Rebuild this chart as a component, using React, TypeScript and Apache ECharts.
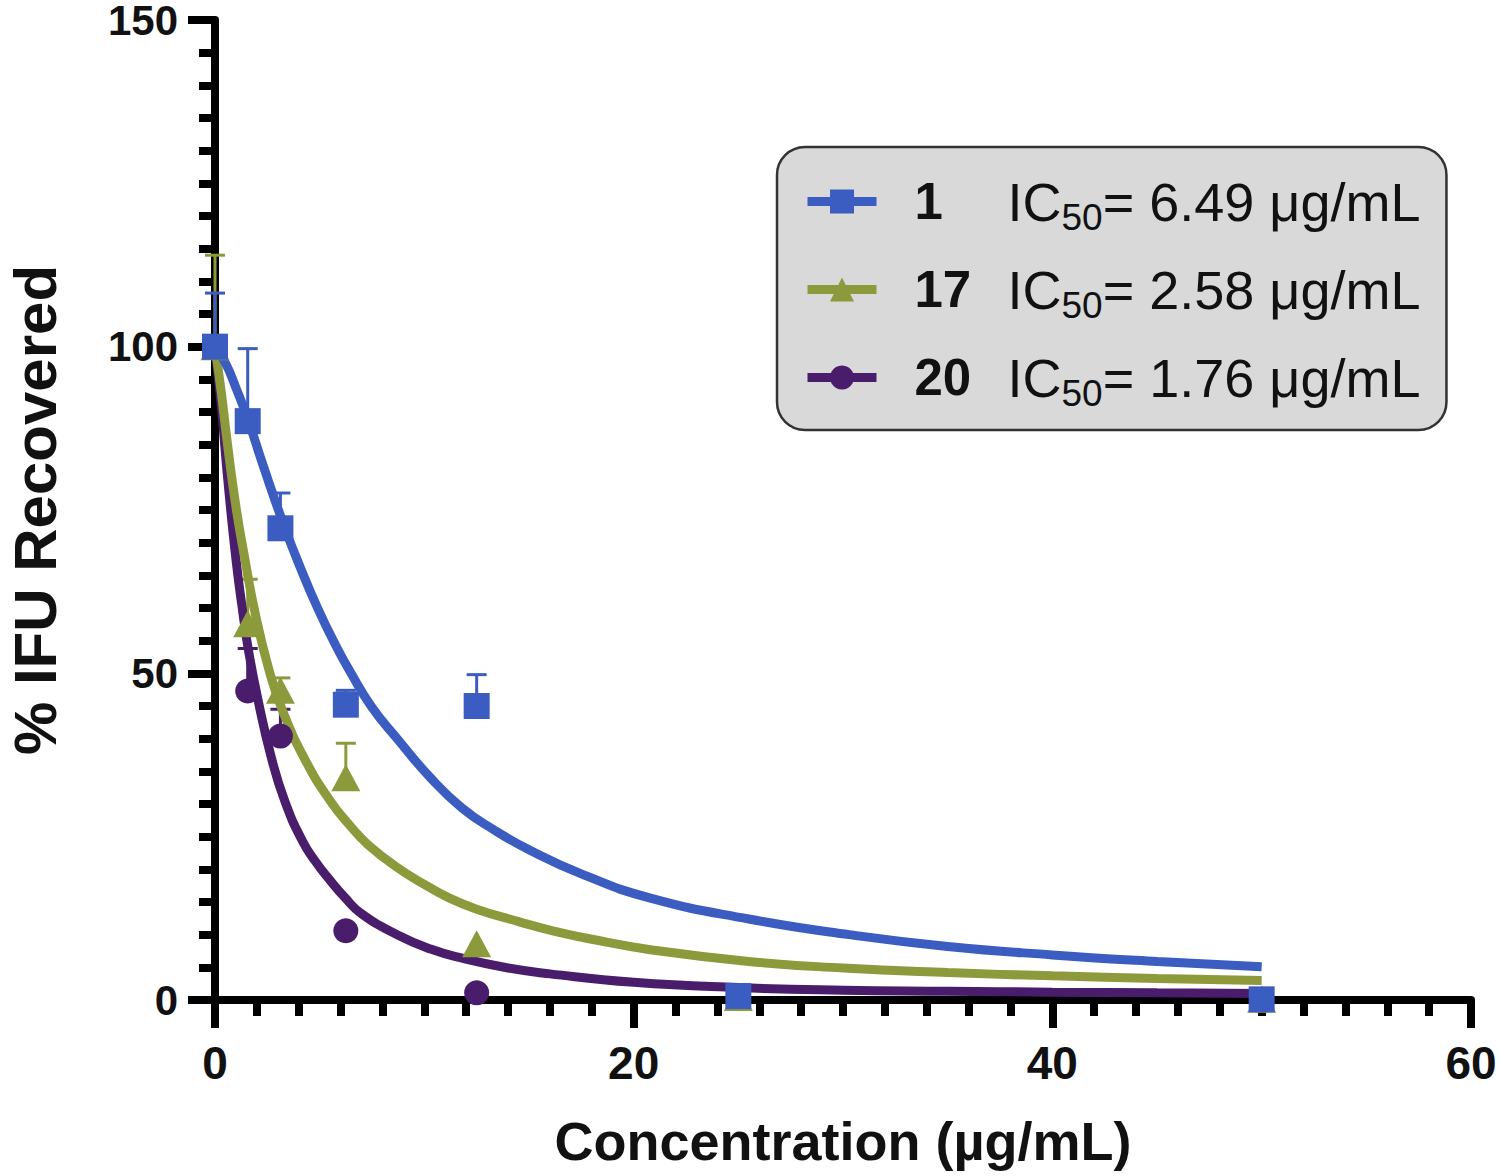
import React, { useEffect, useRef } from 'react';
import * as echarts from 'echarts';

// ---- Data ----
const seriesNames = ['1', '17', '20'];
const ic50Values = ['6.49', '2.58', '1.76'];
const seriesColors = ['#3b5cc0', '#8d9a3b', '#4a1c6c'];
const seriesSymbols = ['rect', 'triangle', 'circle'];

const concentrations = [0, 1.5625, 3.125, 6.25, 12.5, 25, 50];
const mean1 = [100, 88.6, 72.2, 45.2, 45.0, 0.6, 0.1];
const mean17 = [100, 57.6, 47.4, 34.0, 8.6, 0.4, 0.1];
const mean20 = [100, 47.3, 40.4, 10.6, 1.1, 0.4, 0.1];

const upper1 = [108.2, 99.7, 77.6, 47.4, 49.8, null, null];
const upper17 = [114.0, 64.4, 49.3, 39.3, null, null, null];
const upper20 = [null, 53.8, 44.5, null, null, null, null];

// fitted curves
const fit1X = [0, 0.5, 1, 1.56, 2.3, 3.3, 4.1, 4.9, 5.7, 6.5, 7.5, 8.7, 10.3, 11.8, 13.3, 15, 17.5, 20.8, 25.5, 30.3, 35, 40, 45, 50];
const fit1Y = [100, 97.5, 93.7, 89, 81.8, 72.6, 66, 60, 54.7, 50, 44.8, 40, 34, 29.4, 26.1, 23, 19.3, 15.6, 12.4, 10, 8.2, 6.9, 5.9, 5.1];

const fit17X = [0, 0.3, 0.6, 1, 1.4, 1.9, 2.58, 3.2, 4.3, 5.5, 6.5, 7.3, 8.7, 10, 11.2, 12.5, 14.5, 16, 18, 20.8, 25.5, 30, 35, 40, 45, 50];
const fit17Y = [100, 93, 85, 75.5, 68, 59.5, 50.5, 44.5, 36.8, 30.5, 26.5, 23.8, 20.3, 17.7, 15.6, 13.9, 12, 10.7, 9.3, 7.7, 5.9, 4.9, 4.2, 3.7, 3.3, 3.0];

const fit20X = [0, 0.3, 0.6, 1.0, 1.3, 1.6, 2.05, 2.7, 3.35, 4.15, 4.8, 5.5, 6.2, 7.0, 8.7, 10.3, 11.8, 14, 16, 20, 25, 30, 35, 40, 45, 50];
const fit20Y = [100, 91, 80, 67.5, 60, 53.5, 46, 37, 30.3, 24.5, 21.2, 18.3, 15.7, 13.2, 10.0, 7.8, 6.4, 4.9, 4.0, 2.7, 1.9, 1.5, 1.35, 1.2, 1.1, 1.0];

const xTickMax = 60;
const yTickMax = 150;

const FONT = 'Liberation Sans, Arial, sans-serif';

const means = [mean1, mean17, mean20];
const uppers = [upper1, upper17, upper20];
const fitXs = [fit1X, fit17X, fit20X];
const fitYs = [fit1Y, fit17Y, fit20Y];
const symbolSizes: any[] = [26, [29, 27], 25];

function buildOption() {
  const series: any[] = [];
  // error bars (behind)
  [2, 1, 0].forEach((i) => {
    const color = seriesColors[i];
    const data = concentrations
      .map((x, k) => (uppers[i][k] == null ? null : [x, means[i][k], uppers[i][k]]))
      .filter((d) => d !== null);
    series.push({
      type: 'custom',
      name: seriesNames[i] + ' error',
      data,
      z: 1,
      silent: true,
      encode: { x: 0, y: [1, 2] },
      renderItem: (params: any, api: any) => {
        const x = api.value(0);
        const lo = api.value(1);
        const hi = api.value(2);
        const p0 = api.coord([x, lo]);
        const p1 = api.coord([x, hi]);
        const half = 10;
        return {
          type: 'group',
          children: [
            { type: 'line', shape: { x1: p0[0], y1: p0[1], x2: p1[0], y2: p1[1] }, style: { stroke: color, lineWidth: 3 } },
            { type: 'line', shape: { x1: p1[0] - half, y1: p1[1], x2: p1[0] + half, y2: p1[1] }, style: { stroke: color, lineWidth: 3 } },
          ],
        };
      },
    });
  });
  // fitted curves
  [2, 1, 0].forEach((i) => {
    series.push({
      type: 'line',
      name: seriesNames[i],
      data: fitXs[i].map((x, k) => [x, fitYs[i][k]]),
      smooth: 0.5,
      symbol: seriesSymbols[i],
      showSymbol: false,
      lineStyle: { color: seriesColors[i], width: 9 },
      itemStyle: { color: seriesColors[i] },
      z: 2,
      silent: true,
    });
  });
  // data points
  [2, 1, 0].forEach((i) => {
    series.push({
      type: 'scatter',
      name: seriesNames[i] + ' points',
      data: concentrations.map((x, k) => [x, means[i][k]]),
      symbol: seriesSymbols[i],
      symbolSize: symbolSizes[i],
      itemStyle: { color: seriesColors[i], opacity: 1 },
      z: 3,
      silent: true,
    });
  });

  return {
    animation: false,
    backgroundColor: '#ffffff',
    grid: { left: 215, top: 20, right: 29, bottom: 176, outerBoundsMode: 'none' },
    legend: {
      data: seriesNames,
      orient: 'vertical',
      left: 777,
      top: 147,
      padding: [20, 26, 18, 26],
      itemGap: 19,
      itemWidth: 69,
      itemHeight: 30,
      selectedMode: false,
      backgroundColor: '#d9d9d9',
      borderColor: '#333333',
      borderWidth: 2.5,
      borderRadius: 28,
      lineStyle: { width: 9 },
      formatter: (name: string) => {
        const i = seriesNames.indexOf(name);
        return `{g| }{b|${name}}{t|IC}{s|50}{t|= ${ic50Values[i]} μg/mL}`;
      },
      textStyle: {
        color: '#111111',
        fontFamily: FONT,
        fontSize: 54,
        rich: {
          g: { width: 33, fontSize: 50, lineHeight: 60 },
          b: { fontWeight: 'bold', fontSize: 51, width: 93, lineHeight: 60, fontFamily: FONT, color: '#111111' },
          t: { fontSize: 54, lineHeight: 60, fontFamily: FONT, color: '#111111' },
          s: { fontSize: 37, lineHeight: 30, padding: [32, 0, 0, 0], fontFamily: FONT, color: '#111111' },
        },
      },
    },
    xAxis: {
      type: 'value',
      min: 0,
      max: xTickMax,
      interval: 20,
      name: 'Concentration (µg/mL)',
      nameLocation: 'middle',
      nameGap: 114,
      nameMoveOverlap: false,
      nameTextStyle: { fontFamily: FONT, fontSize: 54, fontWeight: 'bold', color: '#111111' },
      axisLine: { show: true, onZero: false, lineStyle: { color: '#000000', width: 8 } },
      axisTick: { show: true, length: 28, lineStyle: { color: '#000000', width: 8 } },
      minorTick: { show: true, splitNumber: 10, length: 16, lineStyle: { color: '#000000', width: 8 } },
      axisLabel: { show: true, margin: 40, fontFamily: FONT, fontSize: 46, fontWeight: 'bold', color: '#111111' },
      splitLine: { show: false },
      minorSplitLine: { show: false },
    },
    yAxis: {
      type: 'value',
      min: 0,
      max: yTickMax,
      interval: 50,
      name: '% IFU Recovered',
      nameLocation: 'middle',
      nameRotate: 90,
      nameGap: 150,
      nameMoveOverlap: false,
      nameTextStyle: { fontFamily: FONT, fontSize: 60, fontWeight: 'bold', color: '#111111' },
      axisLine: { show: true, onZero: false, lineStyle: { color: '#000000', width: 8 } },
      axisTick: { show: true, length: 27, lineStyle: { color: '#000000', width: 8 } },
      minorTick: { show: true, splitNumber: 10, length: 16, lineStyle: { color: '#000000', width: 8 } },
      axisLabel: { show: true, margin: 37, fontFamily: FONT, fontSize: 42, lineHeight: 34, fontWeight: 'bold', color: '#111111' },
      splitLine: { show: false },
      minorSplitLine: { show: false },
    },
    series,
  };
}

export default function App() {
  const ref = useRef<HTMLDivElement>(null);
  useEffect(() => {
    if (!ref.current) return;
    const chart = echarts.init(ref.current, undefined, { renderer: 'svg' });
    chart.setOption(buildOption() as any);
    return () => chart.dispose();
  }, []);
  return (
    <div
      ref={ref}
      style={{ position: 'absolute', left: 0, top: 0, width: 1500, height: 1176, background: '#ffffff' }}
    />
  );
}
